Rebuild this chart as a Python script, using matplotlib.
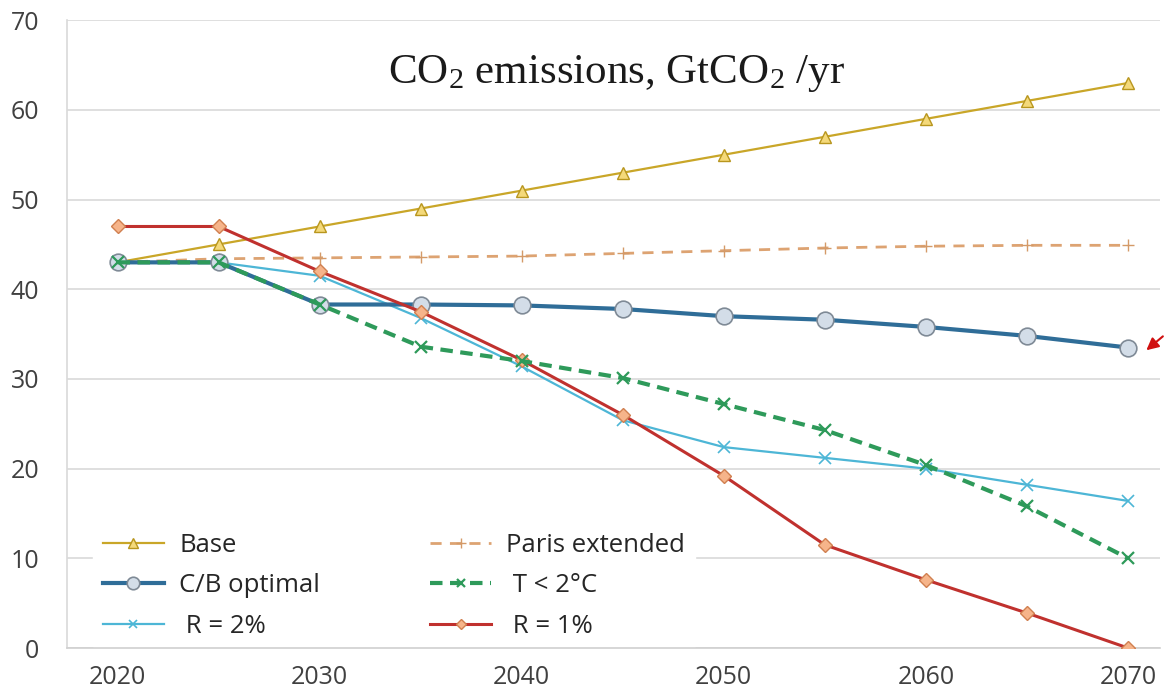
import matplotlib.pyplot as plt

years = [2020, 2025, 2030, 2035, 2040, 2045, 2050, 2055, 2060, 2065, 2070]

base = [43, 45, 47, 49, 51, 53, 55, 57, 59, 61, 63]
paris = [43, 43.4, 43.5, 43.6, 43.7, 44.0, 44.3, 44.6, 44.8, 44.9, 44.9]
cb_optimal = [43, 43, 38.3, 38.3, 38.2, 37.8, 37.0, 36.6, 35.8, 34.8, 33.5]
t_below_2 = [43, 43, 38.3, 33.6, 32.0, 30.1, 27.2, 24.3, 20.4, 15.8, 10.0]
r_2pct = [43, 43, 41.5, 36.8, 31.4, 25.4, 22.4, 21.2, 20.0, 18.2, 16.4]
r_1pct = [47, 47, 42.0, 37.5, 32.1, 26.0, 19.2, 11.5, 7.6, 3.9, 0.0]

fig = plt.figure(figsize=(11.65, 6.97), dpi=100)
ax = fig.add_axes([0.0575, 0.0703, 0.9385, 0.9007])

# lines
l_base, = ax.plot(years, base, color='#C9A628', lw=1.6, marker='^', ms=9,
                  mfc='#F4D97A', mec='#B8961E', zorder=3)
l_paris, = ax.plot(years, paris, color='#DDA372', lw=2, ls=(0, (4, 3)), marker='+', ms=9,
                   mec='#D49A68', zorder=3)
l_cb, = ax.plot(years, cb_optimal, color='#2F6D98', lw=3, marker='o', ms=12,
                mfc='#D3DDE8', mec='#7F8A96', mew=1.2, zorder=4)
l_t2, = ax.plot(years, t_below_2, color='#2E9A5A', lw=3, ls=(0, (3, 1.8)), marker='x', ms=8,
                mec='#2E9A5A', mew=1.6, zorder=5)
l_r2, = ax.plot(years, r_2pct, color='#4DB6D6', lw=1.6, marker='x', ms=8,
                mec='#4DB6D6', mew=1.2, zorder=3)
l_r1, = ax.plot(years, r_1pct, color='#C0312E', lw=2.2, marker='D', ms=7,
                mfc='#F6B48A', mec='#D08050', zorder=4)

ax.set_xlim(2017.5, 2071.6)
ax.set_ylim(0, 70)
ax.set_yticks(range(0, 71, 10))
ax.set_xticks(range(2020, 2071, 10))

ax.grid(axis='y', color='#D9D9D9', lw=1.2)
ax.set_axisbelow(True)
for s in ['top', 'right']:
    ax.spines[s].set_visible(False)
ax.spines['left'].set_color('#D9D9D9')
ax.spines['bottom'].set_color('#D0D0D0')
ax.spines['left'].set_linewidth(1.2)
ax.spines['bottom'].set_linewidth(1.2)
ax.tick_params(axis='y', length=0, pad=20, labelsize=18, labelcolor='#404040')
ax.tick_params(axis='x', length=0, pad=12, labelsize=18, labelcolor='#404040')
for lab in ax.get_xticklabels() + ax.get_yticklabels():
    lab.set_family('Open Sans')

ax.text(0.503, 0.915, r'$\mathregular{CO_2}$ emissions, GtCO$\mathregular{_2}$ /yr',
        transform=ax.transAxes, ha='center', va='center', fontsize=31,
        family='Liberation Serif', color='#1a1a1a')

# legend: matplotlib fills columns first
leg = ax.legend([l_base, l_cb, l_r2, l_paris, l_t2, l_r1],
                ['Base', 'C/B optimal', ' R = 2%', 'Paris extended', ' T < 2°C', ' R = 1%'],
                ncol=2, loc='lower left', bbox_to_anchor=(0.012, -0.022),
                frameon=True, framealpha=1, edgecolor='white', facecolor='white',
                prop={'family': 'Open Sans', 'size': 18.5}, handlelength=2.35,
                columnspacing=4.3, labelspacing=0.6, handletextpad=0.6,
                borderpad=0.4, markerscale=0.75)
leg.set_zorder(2.4)  # over the gridlines, under the axis line
for t in leg.get_texts():
    t.set_color('#262626')

# red arrow
ax.annotate('', xy=(2070.8, 33.0), xycoords='data',
            xytext=(1.0, 0.52), textcoords='figure fraction',
            arrowprops=dict(arrowstyle='-|>', color='#D01010', lw=1.5,
                            mutation_scale=18),
            annotation_clip=False)

plt.savefig('out.png', dpi=100)
